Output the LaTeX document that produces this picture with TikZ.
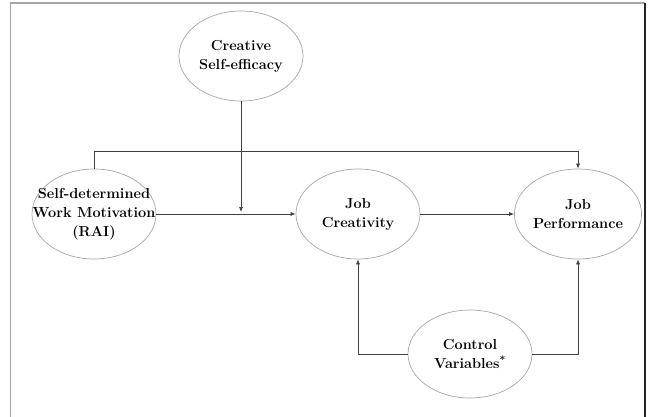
\documentclass[tikz,border=0pt]{standalone}
\usepackage{amsmath}
\usetikzlibrary{arrows, arrows.meta}
\usetikzlibrary{calc}
\usetikzlibrary{shapes.geometric}

\tikzset{
  construct/.style={ellipse, draw=gray!70, line width=0.7pt, inner sep=0pt, minimum width=124pt, minimum height=90pt, align=center, font=\bfseries\fontsize{14.5}{19}\selectfont},
  link/.style={draw=black!75, line width=0.7pt},
  arr/.style={link, -{Latex[length=5pt, width=4pt]}}
}

\begin{document}
\begin{tikzpicture}[x=1pt, y=-1pt]
      \useasboundingbox (0,0) rectangle (648,417);
      \draw[gray!70, line width=1.2pt] (10.5,417) -- (10.5,3) -- (645,3);
      \draw[black!85, line width=1.2pt] (645,3) -- (645,417);

      \node[construct] (cse) at (241, 56) {Creative\\Self-efficacy};
      \node[construct, inner xsep=-20pt] (sdm) at (94, 214) {Self-determined\\Work Motivation\\(RAI)};
      \node[construct] (jc) at (358, 214) {Job\\Creativity};
      \node[construct, minimum width=118pt] (jp) at (578, 214) {Job\\Performance};
      \node[construct, minimum height=88pt] (cv) at (470, 354) {Control\\Variables\textsuperscript{*}};

      \coordinate (top) at (94, 151);
      \coordinate (mid) at (241, 214);

      \draw[link] (sdm.north) -- (top);
      \draw[arr] (top) -| (jp.north);
      \draw[arr] (cse.south) -- ($(mid)+(0,-2)$);
      \draw[arr] (sdm.east) -- (jc.west);
      \draw[arr] (jc.east) -- (jp.west);
      \draw[arr] (cv.west) -| (jc.south);
      \draw[arr] (cv.east) -| (jp.south);
    \end{tikzpicture}
\end{document}
